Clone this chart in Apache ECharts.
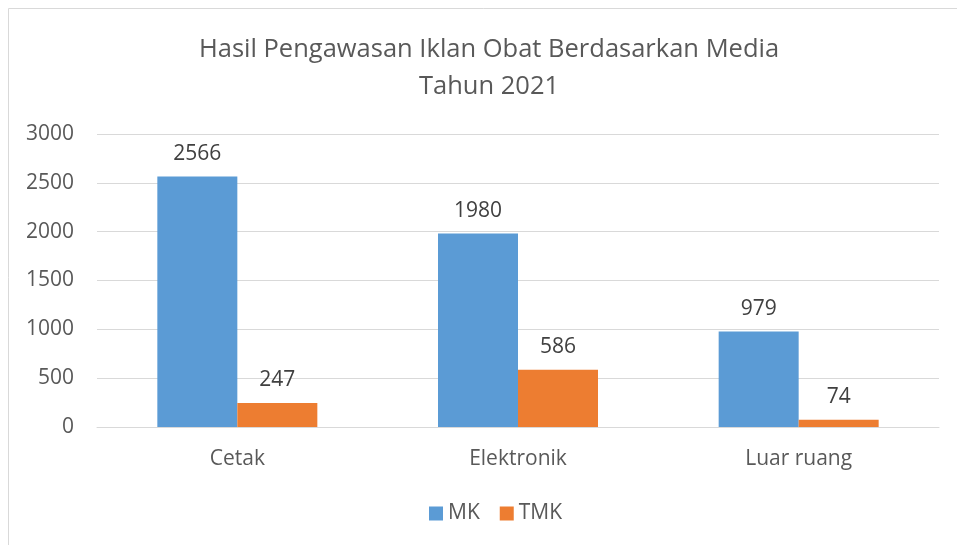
<!DOCTYPE html>
<html><head><meta charset="utf-8">
<script src="https://cdn.jsdelivr.net/npm/echarts@6/dist/echarts.min.js"></script>
<style>html,body{margin:0;padding:0;background:#fff}#c{width:957px;height:545px}</style>
</head><body><div id="c"></div>
<script>
const categories = ['Cetak', 'Elektronik', 'Luar ruang'];
const mkValues = [2566, 1980, 979];
const tmkValues = [247, 586, 74];
const seriesNames = ['MK', 'TMK'];
const titleLines = ['Hasil Pengawasan Iklan Obat Berdasarkan Media', 'Tahun 2021'];

const FONT = '"Open Sans", "Noto Sans", sans-serif';
const TXT = '#595959';
const chart = echarts.init(document.getElementById('c'), null, {renderer: 'canvas'});
const labelCfg = {show: true, position: 'top', distance: 12, color: '#404040', fontSize: 21, fontFamily: FONT};
chart.setOption({
  animation: false,
  graphic: [{type: 'rect', shape: {x: 8.5, y: 8.5, width: 1000, height: 600}, style: {fill: 'none', stroke: '#d9d9d9', lineWidth: 1}, silent: true}],
  title: {text: titleLines.join('\n'), left: 484, top: 26, textAlign: 'center',
    textStyle: {color: TXT, fontSize: 25.5, fontWeight: 'normal', fontFamily: FONT, lineHeight: 37}},
  legend: {data: seriesNames, top: 498, left: 424, itemWidth: 14, itemHeight: 14, itemGap: 20,
    icon: 'rect', textStyle: {color: TXT, fontSize: 21, fontFamily: FONT}},
  grid: {left: 97, right: 18, top: 134, bottom: 118, containLabel: false},
  xAxis: {type: 'category', data: categories,
    axisLine: {lineStyle: {color: '#d9d9d9'}}, axisTick: {show: false},
    axisLabel: {color: TXT, fontSize: 21, fontFamily: FONT, margin: 22}},
  yAxis: {type: 'value', min: 0, max: 3000, interval: 500,
    axisLine: {show: false}, axisTick: {show: false},
    splitLine: {lineStyle: {color: '#d9d9d9'}},
    axisLabel: {color: TXT, fontSize: 21, fontFamily: FONT, margin: 23, formatter: v => String(v)}},
  series: [
    {name: seriesNames[0], type: 'bar', data: mkValues, barWidth: 80, barGap: '0%',
      itemStyle: {color: '#5B9BD5'}, label: labelCfg},
    {name: seriesNames[1], type: 'bar', data: tmkValues, barWidth: 80,
      itemStyle: {color: '#ED7D31'}, label: labelCfg}
  ]
});
</script></body></html>
